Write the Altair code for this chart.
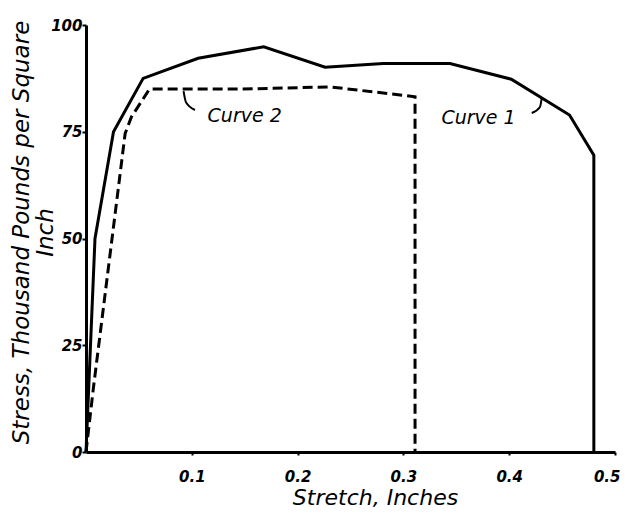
import altair as alt
import pandas as pd

# Curve 1 (solid)
c1_x = [0.0, 0.0085, 0.026, 0.054, 0.106, 0.168, 0.226, 0.281, 0.344, 0.402, 0.457, 0.480, 0.480]
c1_y = [0.0, 50.0, 75.0, 87.5, 92.2, 94.9, 90.1, 91.0, 91.0, 87.3, 78.9, 69.5, 0.0]
# Curve 2 (dashed)
c2_x = [0.0, 0.007, 0.037, 0.043, 0.060, 0.146, 0.231, 0.311, 0.311]
c2_y = [0.0, 15.0, 74.6, 78.5, 85.0, 85.0, 85.5, 83.2, 0.0]

# annotation labels and leader hooks
label_text = ["Curve 2", "Curve 1"]
label_x = [0.150, 0.371]
label_y = [78.7, 78.2]
lead2_x = [0.103, 0.0945, 0.0922]
lead2_y = [80.1, 81.9, 84.5]
lead1_x = [0.4213, 0.4291, 0.4307]
lead1_y = [79.4, 80.8, 82.8]

x_ticks = [0.1, 0.2, 0.3, 0.4, 0.5]
y_ticks = [0, 25, 50, 75, 100]

FONT = "DejaVu Sans"

df1 = pd.DataFrame({"x": c1_x, "y": c1_y, "i": range(len(c1_x))})
df2 = pd.DataFrame({"x": c2_x, "y": c2_y, "i": range(len(c2_x))})
dl = pd.DataFrame({"x": label_x, "y": label_y, "t": label_text})
dh2 = pd.DataFrame({"x": lead2_x, "y": lead2_y, "i": range(3)})
dh1 = pd.DataFrame({"x": lead1_x, "y": lead1_y, "i": range(3)})

xs = alt.Scale(domain=[0, 0.5], nice=False, zero=True)
ys = alt.Scale(domain=[0, 100], nice=False, zero=True)

xax = alt.Axis(
    values=x_ticks, format=".1f", grid=False,
    title="Stretch, Inches", titleFont=FONT, titleFontSize=22, titleFontStyle="italic",
    titleFontWeight="normal", titleColor="black", titleX=289, titleY=45,
    titleAlign="center", titleBaseline="middle",
    labelFont=FONT, labelFontSize=15, labelFontWeight="bold", labelFontStyle="italic",
    labelColor="black", labelPadding=14, tickSize=3, tickWidth=2, tickColor="black",
    labelFlush=True, labelFlushOffset=5,
    domainColor="black", domainWidth=3,
)
yax = alt.Axis(
    values=y_ticks, grid=False,
    title=["Stress, Thousand Pounds per Square", "Inch"], titleFont=FONT,
    titleFontSize=23, titleFontStyle="italic", titleFontWeight="normal",
    titleColor="black", titleAngle=-90, titleX=-76, titleY=207,
    titleAlign="center", titleBaseline="top", titleLineHeight=24,
    labelFont=FONT, labelFontSize=15, labelFontWeight="bold", labelFontStyle="italic",
    labelColor="black", labelPadding=0, tickSize=4, tickWidth=2, tickColor="black",
    domainColor="black", domainWidth=3,
)

base_x = alt.X("x:Q", scale=xs, axis=xax)
base_y = alt.Y("y:Q", scale=ys, axis=yax)

line1 = alt.Chart(df1).mark_line(color="black", strokeWidth=3, strokeJoin="miter").encode(
    x=base_x, y=base_y, order="i:Q")
line2 = alt.Chart(df2).mark_line(color="black", strokeWidth=3, strokeDash=[10, 5]).encode(
    x=alt.X("x:Q", scale=xs), y=alt.Y("y:Q", scale=ys), order="i:Q")
hook2 = alt.Chart(dh2).mark_line(color="black", strokeWidth=2, interpolate="monotone").encode(
    x=alt.X("x:Q", scale=xs), y=alt.Y("y:Q", scale=ys), order="i:Q")
hook1 = alt.Chart(dh1).mark_line(color="black", strokeWidth=2, interpolate="monotone").encode(
    x=alt.X("x:Q", scale=xs), y=alt.Y("y:Q", scale=ys), order="i:Q")
labels = alt.Chart(dl).mark_text(font=FONT, fontSize=19, fontStyle="italic",
                                  color="black", align="center", baseline="middle").encode(
    x=alt.X("x:Q", scale=xs), y=alt.Y("y:Q", scale=ys), text="t:N")

chart = alt.layer(line1, line2, hook2, hook1, labels).properties(
    width=529, height=427, autosize="none",
    padding={"left": 78, "top": 17, "right": 5, "bottom": 56},
    background="white",
).configure_view(stroke=None)

chart.save("out.html", embed_options={"renderer": "svg", "actions": False})
